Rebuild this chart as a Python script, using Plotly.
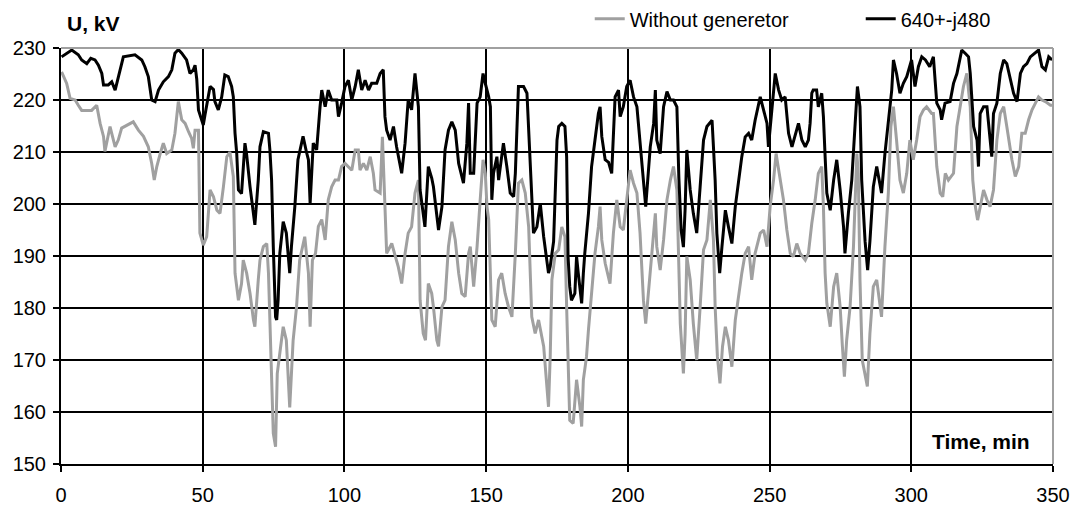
import plotly.graph_objects as go

# Time (min) and voltage (kV) - network with generator 640+-j480
t_gen = [0.2, 2, 3.8, 6.1, 7.3, 9.1, 10.5, 12, 13.2, 14.4, 15, 16.7, 17.9, 19.1, 20.8, 22, 26.1, 28.5, 29.6, 30.8,
         32, 33.2, 34.4, 36.1, 37.9, 39.1, 40.2, 41.4, 42.6, 44.3, 45.5, 46.7, 47.3, 47.9, 48.5, 49.6, 50.2, 50.8,
         51.4, 52.6, 53.8, 54.3, 55.5, 56.7, 57.8, 59, 60.2, 60.8, 61.4, 62, 62.6, 63.7, 64.9, 65.5, 66.7, 67.9,
         68.4, 69.6, 70.2, 71.4, 73.2, 73.7, 74.3, 74.9, 75.7, 76.1, 76.6, 77.2, 78.4, 79.5, 80.7, 81.3, 82.5,
         83.6, 85.4, 86.6, 87.3, 87.9, 88.4, 89.0, 90.2, 90.8, 91.4, 92.0, 93.2, 94.3, 95.5, 97.3, 97.9, 99.0,
         100.2, 101.4, 102.6, 103.8, 104.9, 106.1, 107.3, 108.5, 109.6, 111.4, 112.6, 113.7, 114.3, 114.9, 116.1,
         117.3, 118.4, 120.2, 121.4, 122.5, 123.7, 124.9, 126.1, 126.7, 127.8, 128.4, 129.6, 130.8, 131.4, 132.6,
         133.2, 134.4, 135.5, 136.7, 137.9, 139.1, 140.3, 142, 143.2, 143.8, 144.4, 145.6, 146.8, 147.9, 148.9,
         149.7, 150.9, 151.5, 152.0, 152.6, 153.8, 154.4, 156.1, 157.3, 158.5, 159.7, 160.3, 161.4, 163.2, 164.4,
         165.6, 166.7, 167.9, 169.1, 170.3, 171.5, 172, 172.6, 173.8, 175, 175.6, 176.7, 177.8, 178.4, 178.9,
         179.5, 180.1, 181.3, 181.9, 182.5, 183.7, 184.3, 184.8, 186.1, 187.2, 188.4, 189.6, 190.2, 190.8, 192,
         193.2, 194.3, 194.9, 195.5, 196.7, 197.3, 198.4, 199.6, 200.8, 202, 203.2, 204.3, 205.5, 206.3, 207.9,
         209.1, 209.7, 210.2, 211.4, 212.6, 213.8, 215, 216.1, 217.3, 218, 218.8, 219.6, 220.2, 220.8, 222, 223.1,
         224.3, 225.5, 226.7, 227.9, 229.7, 230.2, 230.8, 231.4, 232.4, 233.2, 234.4, 235.5, 236.7, 237.9, 239.1,
         240.2, 241.4, 242.6, 243.7, 244.9, 246.7, 247.9, 249.1, 249.6, 250.8, 252, 253.2, 254.3, 255.5, 256.7,
         257.9, 259.1, 260.2, 261.4, 262.6, 263.7, 264.3, 264.9, 265.4, 266.6, 267.2, 268.4, 269, 269.6, 270.2,
         271.4, 272.6, 273.7, 274.9, 276.1, 276.6, 277.8, 279, 280.2, 281, 281.9, 282.5, 283.7, 284.6, 285.4,
         286.6, 287.8, 288.9, 289.5, 290.7, 291.9, 293.1, 293.7, 294.8, 296, 297.2, 298.4, 299.5, 300.1, 301.3,
         302.5, 303.7, 305, 306.5, 307.8, 309, 310.2, 310.7, 311.9, 313.7, 314.9, 316.1, 317.2, 317.8, 319, 320.2,
         320.8, 322, 323.2, 323.7, 324.3, 325.5, 326.7, 327.8, 328.4, 329, 330.2, 331.4, 332.6, 333.7, 334.9,
         336.1, 337.3, 338.5, 339.6, 340.8, 342, 343.8, 344.9, 346.1, 347.3, 348.5, 349.7]
u_gen = [228.3, 229, 229.6, 228.7, 227.7, 227, 228, 227.7, 226.7, 225.1, 222.9, 222.9, 223.5, 221.9, 225.8, 228.3,
         228.7, 227.7, 226.4, 224.5, 220, 219.7, 221.9, 223.5, 224.5, 225.8, 229, 229.7, 229, 227.7, 225.1, 225.8,
         226.7, 224, 218.1, 216.2, 215.2, 217.1, 218.7, 222.6, 222, 219.7, 218.1, 220.6, 224.8, 224.5, 222.6, 220.6,
         213.6, 209.7, 202.7, 202, 211.7, 209.5, 203.3, 198.2, 196, 204.6, 211, 213.9, 213.6, 210.4, 204.6, 191.8,
         178.3, 177.7, 181.5, 190.5, 196.6, 194.4, 186.7, 191.8, 199.5, 208.5, 213, 210, 208.5, 200.1, 205.9, 211.7,
         210.4, 214.9, 218.7, 221.9, 218.7, 221.9, 220, 220, 216.8, 219.4, 222.6, 223.8, 220, 222.6, 225.8, 221.9,
         223.8, 221.9, 223.2, 223.2, 225.1, 225.8, 216.8, 214.2, 212.3, 214.9, 211, 205.9, 211.7, 220, 218.1, 225.1,
         218.7, 202.7, 198.2, 195.6, 207.2, 205, 203.3, 196.9, 195, 199.5, 210.4, 214.2, 215.8, 214.2, 207.8, 204,
         211.7, 219.4, 205.9, 205.9, 219.4, 220.6, 225.1, 223.2, 220.6, 218.7, 200.8, 205.9, 209.1, 204.6, 211.7,
         207.2, 202.1, 201.4, 205.9, 222.6, 222.6, 221.3, 205.9, 194.4, 195.6, 200.1, 193.7, 189.2, 186.7, 188,
         192.8, 212.3, 214.9, 215.5, 214.9, 209.1, 189.9, 184.1, 181.5, 182.8, 189.9, 186.7, 180.9, 186.7, 190.5,
         198.2, 207.2, 212.3, 217.4, 218.7, 213, 208.5, 208, 205.9, 214.2, 220.6, 221.9, 216.8, 218.7, 222.6, 223.8,
         220.6, 218.7, 212.3, 204.6, 199.5, 211, 215.5, 221.9, 212.3, 209.7, 218.7, 221.6, 220, 220, 218.7, 205,
         195, 191.7, 199, 210.4, 202.7, 198.2, 194.4, 203.3, 212.3, 214.9, 216.1, 211, 204.6, 194.4, 186.7, 191.8,
         198.8, 195.6, 192.4, 199.5, 204.6, 209.1, 212.9, 213.6, 212.3, 216.1, 220.6, 218.1, 215.5, 211, 218.7,
         225.1, 221.9, 220, 220.6, 213.6, 211, 213.6, 215.5, 212.3, 211, 212.3, 215.5, 221.3, 221.9, 221.9, 218.7,
         221.3, 216.8, 209.1, 202.1, 198.8, 204.6, 208.5, 202.7, 195.6, 190.5, 198.2, 204.6, 215.5, 222.6, 218.7,
         204.6, 192.8, 187.3, 192.8, 203.3, 207.2, 203.3, 202.1, 209.7, 216.1, 221.9, 227.7, 225.1, 221.3, 223.2,
         224.5, 226.4, 227.7, 222.6, 226.4, 228.3, 227.7, 226.4, 228.3, 219.4, 218.1, 216.2, 219.4, 219.7, 223.2,
         225.1, 228.3, 229.6, 229, 228.3, 225.1, 214.9, 212.3, 207.2, 217.4, 218.7, 218.7, 212.3, 209.1, 217.4,
         219.4, 225.1, 227.7, 227, 223.8, 221.3, 219.7, 225.1, 226.4, 227, 228.3, 229, 229.6, 226.4, 225.8, 228.3,
         227.7]

# Time (min) and voltage (kV) - network without generator
t_nogen = [0.2, 2, 3.2, 5, 6.1, 7.3, 10.8, 12.6, 13.8, 15, 15.5, 17.3, 19.1, 20.2, 21.4, 23.2, 25.5, 27.3, 29.1,
           30.8, 32, 32.9, 33.8, 35, 36.1, 37.3, 39.1, 40.2, 41.4, 42.6, 43.8, 45, 46.1, 46.7, 47.3, 48.5, 49,
           50.2, 51.4, 52.6, 53.8, 55, 56.1, 57.3, 58.5, 59.6, 60.8, 61.4, 62.6, 63.7, 64.3, 65.5, 66.7, 67.9, 68.4,
           69.6, 70.2, 71.4, 72.6, 73.2, 74, 74.9, 75.7, 76.3, 77.2, 78.4, 79.5, 80.7, 81.9, 83.1, 84.2, 86, 87.3,
           87.9, 88.7, 89.8, 90.8, 92.0, 93.2, 94.3, 95.5, 96.7, 97.9, 99, 100.2, 101.4, 102.6, 103.8, 104.9, 105.5,
           106.7, 107.9, 109.1, 110.2, 110.8, 112.6, 113.4, 114.3, 114.9, 116.7, 117.9, 119, 120.2, 121.4, 122.5,
           123.7, 124.9, 126.1, 126.7, 127.8, 128.6, 129.6, 130.8, 131.4, 132.6, 133.2, 134.4, 135.5, 136.7, 137.9,
           139.1, 140.3, 141.4, 142.6, 143.8, 144.4, 145.6, 146.8, 147.9, 148.9, 149.7, 150.3, 150.9, 152.0, 153.2,
           154.4, 155.5, 156.7, 157.9, 159.1, 160.3, 161.4, 162.6, 163.8, 165, 166.1, 167.3, 168.5, 170.3, 171.5,
           172, 172.6, 173.2, 174.4, 175.6, 176.7, 177.8, 178.4, 178.9, 179.5, 180.7, 181.9, 183.1, 183.7, 184.3,
           185.4, 186.1, 187.2, 188.4, 189.6, 190.2, 190.8, 192, 193.7, 194.9, 196.1, 197.3, 198.4, 199.6, 200.8,
           202, 203.2, 204.3, 205.5, 206.3, 207.9, 209.1, 209.7, 210.2, 211.4, 212.6, 213.8, 215, 216.1, 217.3,
           218.5, 219.6, 220.2, 220.8, 222, 223.1, 224.3, 225.5, 226.7, 227.9, 229.1, 230.2, 230.8, 231.6, 232.5,
           233.4, 234.4, 235.5, 236.7, 237.9, 239.1, 240.2, 241.4, 242.6, 243.7, 244.9, 246.7, 247.9, 249.1, 250.2,
           251.4, 252.3, 253.4, 254.9, 256.1, 257.3, 258.4, 259.6, 260.8, 262.6, 263.7, 264.9, 266.1, 267.2, 268.4,
           269, 269.6, 270.2, 271.4, 272.6, 273.7, 274.9, 275.7, 276.4, 277.2, 278.4, 279.6, 280.8, 281.3, 281.9,
           282.7, 283.7, 284.5, 285.4, 286.6, 287.8, 288.9, 289.5, 290.7, 291.9, 292.8, 293.7, 294.8, 296, 297.2,
           298.4, 299.5, 300.7, 301.9, 303.1, 304.3, 305.4, 307.2, 307.8, 309, 310.2, 311.1, 312, 313.1, 314.9,
           316.1, 317.2, 318.4, 319.6, 320.8, 321.7, 322.6, 323.4, 324.3, 325.5, 326.7, 327.8, 329, 330.2, 331.4,
           332.6, 333.7, 335.5, 336.7, 337.9, 339, 340.2, 341.4, 342.6, 343.8, 344.9, 346.1, 347.3, 349.1, 350]
u_nogen = [225.4, 223.2, 220.3, 220, 219, 218, 218, 219, 215.5, 213, 210.1, 214.9, 211, 212.3, 214.6, 215.2, 215.8,
           214.2, 213, 211, 207.8, 204.6, 207.2, 209.7, 211.7, 209.7, 210.4, 213.6, 219.7, 216.2, 215.5, 213.9,
           212.6, 210.7, 214.2, 214.2, 194.4, 192.1, 193.7, 202.7, 201.4, 198.8, 198.2, 203.3, 209.1, 210, 205.3,
           186.7, 181.5, 184.7, 189.2, 186.7, 182.8, 177.7, 176.4, 185.4, 189.2, 191.8, 192.4, 186.7, 173.8, 155.9,
           153.3, 167.4, 171.3, 176.4, 173.8, 160.9, 173.8, 180.2, 189.2, 193.7, 186.7, 176.4, 189.2, 190.5, 195.7,
           197, 193.1, 200.8, 203.3, 204.6, 204.6, 207.2, 207.8, 207.2, 206.5, 210.4, 210.4, 206.5, 207.8, 206.5,
           209.1, 205.9, 202.7, 202.1, 212.9, 199.5, 190.5, 192.4, 189.9, 187.9, 184.7, 190.5, 194.4, 195.6, 202.1,
           204.6, 181.5, 175.1, 173.8, 184.7, 182.8, 180.2, 173.8, 172.6, 180.2, 181.5, 191.8, 196.6, 193.1, 186.7,
           182.8, 182.2, 190.5, 191.8, 184.1, 191.8, 200.8, 208.5, 205.9, 199.5, 197, 177.7, 176.4, 185.4, 186.7,
           182.8, 180.2, 178.3, 190.5, 204, 204.6, 202.1, 195.6, 178.3, 175.1, 177.7, 172.6, 164.2, 161, 170.6,
           185.4, 190.5, 191.2, 195.6, 193.7, 180.2, 171.9, 158.4, 157.8, 166.2, 161, 157.2, 166.2, 170.6, 175.8,
           183.5, 190.5, 195.6, 199.5, 193.1, 188.6, 184.7, 194.4, 200.8, 195.6, 195, 200.8, 206.5, 204, 202.1,
           194.4, 181.5, 177, 186.7, 194.4, 198.2, 191.8, 187.3, 193.1, 200.8, 204.6, 207.2, 202.7, 177, 167.4, 175,
           189.9, 185.4, 177, 170, 180.2, 191.2, 193.1, 200.8, 193.1, 180.2, 170.6, 165.5, 172.6, 176.4, 173.8,
           168.7, 177.7, 182.8, 186.7, 190.5, 191.8, 185.4, 190.5, 194.4, 195, 191.8, 199.5, 204.6, 209.7, 205.9,
           200.8, 195, 190.5, 189.9, 192.4, 190.5, 189.2, 190.5, 196.3, 200.8, 205.9, 207.2, 199.5, 186.7, 180.9,
           176.4, 184.1, 186.7, 180.2, 172.6, 166.8, 173.8, 180.2, 191.8, 209.7, 205.9, 185.4, 170, 167.4, 164.9,
           175.1, 184.1, 185.4, 180.2, 178.3, 191.8, 202.1, 214.9, 218.7, 212.3, 204.6, 202.1, 205.9, 212.3, 208.5,
           212.3, 216.8, 218.1, 218.7, 217.4, 217.4, 207.2, 202.1, 201.4, 205.9, 204.6, 205.9, 214.9, 218.7, 222.6,
           225.1, 218.7, 204.6, 199.5, 196.9, 199.5, 202.7, 200.8, 199.5, 202.7, 212.3, 217.4, 218.7, 214.9, 208.5,
           205.3, 207.2, 213.6, 213.6, 216.2, 218.1, 219.4, 220.6, 220, 219.7, 219, 219]

x_ticks = [0, 50, 100, 150, 200, 250, 300, 350]
y_ticks = [150, 160, 170, 180, 190, 200, 210, 220, 230]

FONT = "Liberation Sans, Arial, sans-serif"

fig = go.Figure()
fig.add_trace(go.Scatter(x=t_nogen, y=u_nogen, mode="lines", name="Without generetor",
                         line=dict(color="#a0a0a0", width=3)))
fig.add_trace(go.Scatter(x=t_gen, y=u_gen, mode="lines", name="640+-j480",
                         line=dict(color="#000000", width=3)))

fig.update_layout(
    width=1075, height=508,
    margin=dict(l=61, r=22, t=48, b=44, autoexpand=False),
    paper_bgcolor="white", plot_bgcolor="white",
    font=dict(family=FONT, size=20, color="black"),
    legend=dict(orientation="h", x=0.533, y=1.117, xanchor="left", yanchor="top",
                font=dict(size=20), entrywidth=226, entrywidthmode="pixels",
                bgcolor="rgba(0,0,0,0)", tracegroupgap=0),
    xaxis=dict(range=[0, 350], tickvals=x_ticks, showgrid=True, gridcolor="black", gridwidth=1.5,
               showline=True, linecolor="black", linewidth=2, ticks="outside", ticklen=6,
               tickcolor="black", tickwidth=1.5, zeroline=False, fixedrange=True,
               ticklabelstandoff=6),
    yaxis=dict(range=[150, 230], tickvals=y_ticks, showgrid=True, gridcolor="black", gridwidth=1.5,
               showline=True, linecolor="black", linewidth=2, ticks="outside", ticklen=6,
               tickcolor="black", tickwidth=1.5, zeroline=False, fixedrange=True,
               ticklabelstandoff=3),
    shapes=[
        dict(type="line", xref="paper", yref="paper", x0=0, x1=1, y0=1, y1=1,
             line=dict(color="#a0a0a0", width=2), layer="above"),
        dict(type="line", xref="paper", yref="paper", x0=1, x1=1, y0=0, y1=1,
             line=dict(color="#a0a0a0", width=2), layer="above"),
    ],
    annotations=[
        dict(text="<b>U, kV</b>", xref="paper", yref="paper", x=0.004, y=1.058,
             xanchor="left", yanchor="middle", showarrow=False, font=dict(size=21)),
        dict(text="<b>Time, min</b>", xref="paper", yref="paper", x=0.979, y=0.053,
             xanchor="right", yanchor="middle", showarrow=False, font=dict(size=21)),
    ],
)

fig.write_html("out.html")
